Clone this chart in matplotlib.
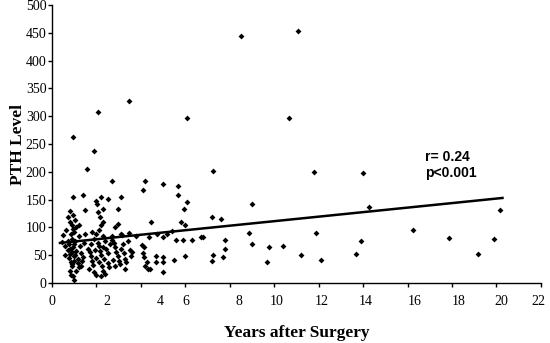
import matplotlib
matplotlib.use("Agg")
import matplotlib.pyplot as plt

# Years after surgery / PTH level
years = [
    # sparse points
    0.96, 1.88, 2.09, 3.48, 6.09, 8.49, 11.08, 10.68,
    11.8, 13.98, 8.99, 14.28, 20.16, 8.88, 11.88, 16.26, 8.99, 9.78, 10.38,
    13.9, 17.87, 19.9, 9.69, 11.19, 12.09, 13.67, 19.19,
    1.56, 2.69, 4.19, 4.08, 4.98, 5.69, 5.69, 6.09, 5.96, 7.26,
    0.96, 1.38, 1.49, 1.98, 2.19, 2.01, 2.53, 3.09, 2.31, 2.09, 2.98,
    2.16, 2.31, 2.84, 2.98, 3.09, 2.69, 4.44, 4.38, 4.71, 4.98, 5.19,
    5.39, 5.58, 5.88, 6.29, 6.69, 6.81, 7.19, 7.59, 5.79, 5.99, 7.79,
    7.79, 7.68, 7.26, 7.19, 3.78, 4.03, 4.14, 4.08, 4.14, 4.26, 4.33,
    4.19, 4.41, 4.68, 4.68, 4.98, 4.98, 4.98, 5.49, 5.99,
    # cluster under 1.5 years
    0.5, 0.45, 0.6, 0.7, 0.8, 0.75, 0.85, 0.9, 0.8, 0.95, 1.0, 0.7,
    0.8, 0.9, 0.95, 1.0, 0.85, 0.9, 1.05, 1.0, 0.95, 1.1, 1.05, 1.15,
    1.0, 0.9, 1.2, 1.1, 0.8, 0.95, 1.05, 1.1, 1.2, 1.25, 1.3, 1.35,
    0.65, 0.7, 0.75, 0.8, 0.9, 0.6, 1.0, 1.15, 1.3, 1.4, 1.45, 1.5,
    1.2, 0.85,
    # cluster around 2 years
    1.6, 1.7, 1.75, 1.8, 1.85, 1.65, 1.9, 2.0, 2.05, 2.1, 2.15, 2.2,
    2.0, 2.1, 2.25, 2.3, 1.9, 2.0, 2.1, 2.2, 2.3, 2.4, 2.45, 2.5,
    2.35, 2.5, 2.4, 1.75, 1.8, 2.55, 2.6, 2.2, 1.95, 2.3,
    # cluster around 3 years
    2.7, 2.8, 2.85, 2.9, 2.95, 3.0, 3.05, 3.1, 3.2, 3.25, 3.3, 3.35,
    3.4, 3.5, 3.55, 2.75, 2.85, 3.15, 3.45, 3.6, 3.3,
]
pth = [
    262, 238, 307, 328, 296, 445, 453, 296,
    200, 198, 143, 137, 132, 90, 90, 96, 71, 64, 67,
    76, 81, 79, 37, 50, 41, 53, 52,
    205, 184, 184, 167, 179, 175, 158, 146, 134, 201,
    154, 158, 131, 148, 155, 143, 152, 154, 134, 128, 134,
    118, 110, 101, 106, 89, 85, 110, 83, 89, 82, 88,
    94, 77, 77, 77, 82, 83, 118, 115, 110, 105, 77,
    62, 47, 50, 40, 85, 68, 64, 54, 47, 38, 25,
    31, 25, 49, 38, 47, 38, 20, 41, 49,
    86, 74, 66, 60, 52, 45, 38, 30, 22, 12, 5, 118,
    110, 104, 98, 92, 88, 80, 76, 70, 64, 58, 50, 44,
    40, 34, 28, 22, 130, 122, 113, 100, 85, 66, 54, 40,
    95, 76, 70, 62, 56, 50, 48, 36, 30, 46, 72, 88,
    104, 14,
    62, 55, 48, 40, 33, 26, 20, 15, 72, 66, 58, 50,
    45, 38, 30, 22, 80, 88, 96, 104, 84, 76, 62, 54,
    44, 36, 17, 70, 92, 28, 70, 12, 60, 64,
    78, 72, 64, 56, 48, 40, 34, 62, 70, 54, 44, 38,
    76, 60, 48, 42, 30, 86, 90, 56, 26,
]

# regression line ends
fit_x = [0.36, 20.27]
fit_y = [72, 153]

x_ticks = list(range(0, 23, 2))
x_labels = [str(t) for t in x_ticks]
# the labels in the original sit a bit off their ticks
x_label_pos = [0, 2.48, 4.86, 6.0, 8.4, 10.1, 12.15, 14.1, 16.3, 18.3, 20.2, 21.9]
y_ticks = list(range(0, 501, 50))

serif = "Liberation Serif"

fig = plt.figure(figsize=(5.5, 3.43), dpi=100)
ax = fig.add_axes([0.0945, 0.175, 0.889, 0.81])

ax.scatter(years, pth, marker="D", s=9, color="black", linewidths=0, zorder=3)
ax.plot(fit_x, fit_y, color="black", linewidth=1.8, zorder=4)

ax.set_xlim(0, 22)
ax.set_ylim(0, 500)

ax.set_xticks(x_ticks)
ax.set_xticklabels([])
ax.tick_params(axis="x", direction="out", length=3, width=1)
for pos, lab in zip(x_label_pos, x_labels):
    ax.text(pos, -0.045, lab, transform=ax.get_xaxis_transform(),
            ha="center", va="top", fontfamily=serif, fontsize=10)

ax.set_yticks(y_ticks)
ax.tick_params(axis="y", direction="out", length=3, width=1, pad=1)
for lab in ax.get_yticklabels():
    lab.set_fontfamily(serif)
    lab.set_fontsize(10)

for side in ["top", "right"]:
    ax.spines[side].set_visible(False)
for side in ["left", "bottom"]:
    ax.spines[side].set_linewidth(1)

ax.set_xlabel("Years after Surgery", fontfamily=serif, fontweight="bold",
              fontsize=12.5, labelpad=24)
ax.set_ylabel("PTH Level", fontfamily=serif, fontweight="bold",
              fontsize=12.5, labelpad=0)

ax.text(16.8, 227, "r= 0.24", fontfamily="Liberation Sans", fontweight="bold",
        fontsize=10, va="center")
ax.text(16.8, 198, "p<0.001", fontfamily="Liberation Sans", fontweight="bold",
        fontsize=10, va="center")

fig.savefig("out.png", dpi=100)
